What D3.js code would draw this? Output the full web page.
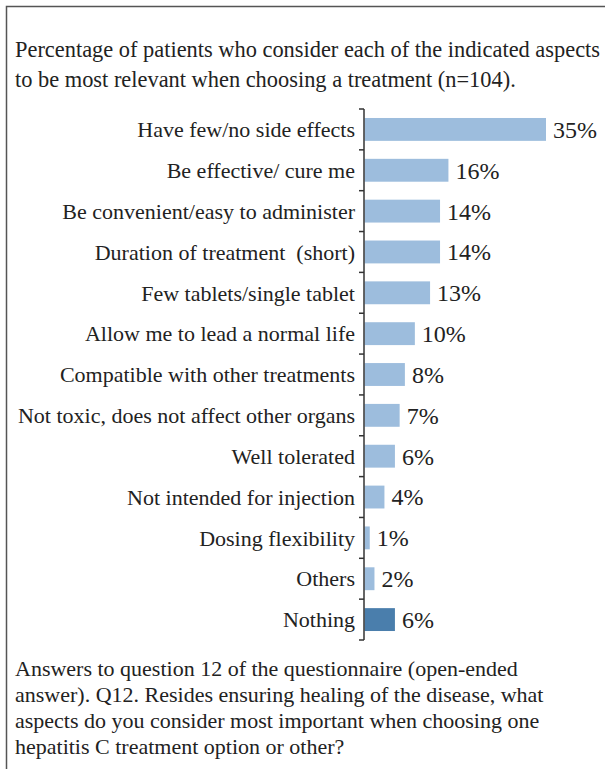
<!DOCTYPE html>
<html><head><meta charset="utf-8">
<script src="https://cdn.jsdelivr.net/npm/d3@7"></script>
<style>body{margin:0;background:#fff}</style>
</head><body><svg id="c" width="605" height="769"></svg>
<script>
const categories = ["Have few/no side effects","Be effective/ cure me","Be convenient/easy to administer","Duration of treatment  (short)","Few tablets/single tablet","Allow me to lead a normal life","Compatible with other treatments","Not toxic, does not affect other organs","Well tolerated","Not intended for injection","Dosing flexibility","Others","Nothing"];
const values = [34.6, 16.0, 14.4, 14.4, 12.5, 9.6, 7.7, 6.7, 5.8, 3.8, 1.0, 1.9, 5.8];
const valueLabels = ["35%","16%","14%","14%","13%","10%","8%","7%","6%","4%","1%","2%","6%"];
const titleLines = ["Percentage of patients who consider each of the indicated aspects","to be most relevant when choosing a treatment (n=104)."];
const noteLines = ["Answers to question 12 of the questionnaire (open-ended","answer). Q12. Resides ensuring healing of the disease, what","aspects do you consider most important when choosing one","hepatitis C treatment option or other?"];

const svg = d3.select("#c");
svg.append("path").attr("d","M6.5,772 V6.5 H610").attr("fill","none").attr("stroke","#555").attr("stroke-width",1.5);

const gTitle = svg.append("g");
gTitle.selectAll("text").data(titleLines).join("text")
  .attr("x",15).attr("y",(d,i)=>57+i*30).attr("font-size",22.4)
  .style("font-family","Liberation Serif").attr("fill","#222").text(d=>d);

const gNote = svg.append("g");
gNote.selectAll("text").data(noteLines).join("text")
  .attr("x",15).attr("y",(d,i)=>676+i*26).attr("font-size",22)
  .style("font-family","Liberation Serif").attr("fill","#222").text(d=>d);

const x = d3.scaleLinear().domain([0,34.6]).range([364.5,546]);
const y = d3.scaleBand().domain(categories).range([109,640]).paddingInner(0.44).paddingOuter(0.22);

const gBars = svg.append("g");
gBars.selectAll("rect").data(categories).join("rect")
  .attr("x",x(0)).attr("y",d=>y(d)).attr("height",y.bandwidth())
  .attr("width",(d,i)=>x(values[i])-x(0))
  .attr("fill",(d,i)=>d==="Nothing"?"#4a7eac":"#9dbddd");

const gVals = svg.append("g");
gVals.selectAll("text").data(categories).join("text")
  .attr("x",(d,i)=>x(values[i])+7).attr("y",d=>y(d)+y.bandwidth()/2).attr("dy","0.35em")
  .attr("font-size",24).style("font-family","Liberation Serif").attr("fill","#222")
  .text((d,i)=>valueLabels[i]);

const gCats = svg.append("g");
gCats.selectAll("text").data(categories).join("text")
  .attr("x",355).attr("y",d=>y(d)+y.bandwidth()/2).attr("dy","0.35em").attr("text-anchor","end")
  .attr("font-size",22).style("font-family","Liberation Serif").style("white-space","pre").attr("fill","#222")
  .text(d=>d);

const bounds = d3.range(categories.length+1).map(i=>109+i*(640-109)/categories.length);
const gAxis = svg.append("g");
gAxis.append("line").attr("x1",364).attr("x2",364).attr("y1",109).attr("y2",640).attr("stroke","#333").attr("stroke-width",1.5);
gAxis.selectAll("line.tk").data(bounds).join("line").attr("class","tk")
  .attr("x1",359).attr("x2",364).attr("y1",d=>d).attr("y2",d=>d).attr("stroke","#333").attr("stroke-width",1.5);
</script></body></html>
